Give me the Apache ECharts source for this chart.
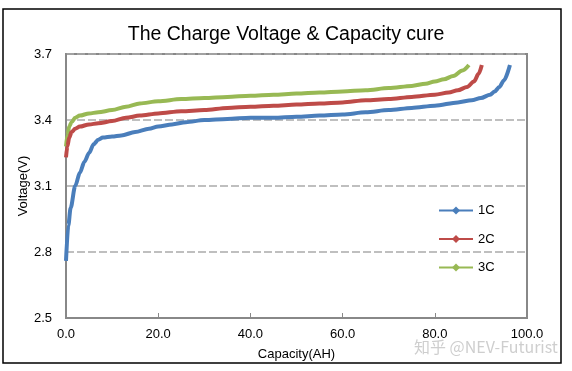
<!DOCTYPE html>
<html>
<head>
<meta charset="utf-8">
<script src="https://cdn.jsdelivr.net/npm/echarts@6/dist/echarts.min.js"></script>
<style>
html,body{margin:0;padding:0;background:#fff;}
#c{width:572px;height:371px;}
</style>
</head>
<body>
<div id="c"></div>
<script>
const titleText = 'The Charge Voltage & Capacity cure';
const seriesNames = ['1C', '2C', '3C'];
const xTicks = [0, 20, 40, 60, 80, 100];
const yTicks = [2.5, 2.8, 3.1, 3.4, 3.7];

const cap1C = [0, 0.5, 1, 2, 3, 4, 5, 6, 7, 8, 10, 12, 15, 18, 20, 23, 26, 30, 35, 40, 45, 50, 55, 60, 65, 70, 75, 80, 85, 88, 90, 92, 93, 94, 95, 96.3];
const volt1C = [2.76, 2.92, 3.00, 3.10, 3.16, 3.21, 3.25, 3.29, 3.31, 3.32, 3.325, 3.33, 3.345, 3.36, 3.37, 3.38, 3.39, 3.40, 3.405, 3.41, 3.41, 3.415, 3.42, 3.425, 3.435, 3.445, 3.455, 3.465, 3.48, 3.49, 3.50, 3.515, 3.53, 3.55, 3.58, 3.65];

const cap2C = [0, 0.3, 0.7, 1.2, 2, 3, 5, 7, 10, 13, 16, 20, 25, 30, 35, 40, 45, 50, 55, 60, 65, 70, 75, 80, 83, 85, 87, 88.5, 89.5, 90.2];
const volt2C = [3.23, 3.28, 3.32, 3.345, 3.36, 3.37, 3.38, 3.385, 3.395, 3.41, 3.42, 3.43, 3.44, 3.445, 3.455, 3.46, 3.465, 3.47, 3.475, 3.48, 3.49, 3.495, 3.505, 3.515, 3.525, 3.535, 3.55, 3.575, 3.61, 3.65];

const cap3C = [0, 0.3, 0.7, 1.2, 2, 3, 5, 7, 10, 13, 16, 20, 25, 30, 35, 40, 45, 50, 55, 60, 65, 70, 75, 78, 80, 82, 84, 86, 87.4];
const volt3C = [3.28, 3.33, 3.37, 3.39, 3.41, 3.42, 3.43, 3.435, 3.445, 3.46, 3.475, 3.485, 3.495, 3.50, 3.505, 3.51, 3.515, 3.52, 3.525, 3.53, 3.535, 3.545, 3.555, 3.565, 3.575, 3.585, 3.60, 3.625, 3.65];

const colors = ['#4A7EBB', '#BE4B48', '#98B954'];
const caps = [cap1C, cap2C, cap3C];
const volts = [volt1C, volt2C, volt3C];
const FONT = "'Liberation Sans', Arial, sans-serif";

const chart = echarts.init(document.getElementById('c'), null, {renderer: 'canvas'});
chart.setOption({
  animation: false,
  backgroundColor: '#fff',
  textStyle: {fontFamily: FONT},
  title: {
    text: titleText,
    left: 'center',
    top: 20,
    textStyle: {fontFamily: FONT, fontSize: 19.5, fontWeight: 'normal', color: '#000'}
  },
  graphic: [
    {type: 'rect', shape: {x: 3, y: 9, width: 558, height: 354}, style: {fill: 'none', stroke: '#000', lineWidth: 1.5}, z: -1, silent: true},
    {type: 'text', left: 414, top: 339, style: {text: '知乎 @NEV-Futurist', fill: 'rgba(185,185,185,0.7)', font: "16px 'Noto Sans CJK SC', 'Liberation Sans', sans-serif"}, z: 100, silent: true}
  ],
  legend: {
    data: seriesNames,
    orient: 'vertical',
    left: 433,
    top: 199,
    itemWidth: 34,
    itemHeight: 10,
    itemGap: 15.5,
    textStyle: {fontFamily: FONT, fontSize: 13, color: '#000'}
  },
  grid: {left: 66, right: 45, top: 54, bottom: 53, show: true, borderColor: '#888', borderWidth: 2, containLabel: false},
  xAxis: {
    type: 'value',
    min: xTicks[0],
    max: xTicks[xTicks.length - 1],
    interval: 20,
    name: 'Capacity(AH)',
    nameLocation: 'middle',
    nameGap: 30,
    nameTextStyle: {fontFamily: FONT, fontSize: 13, color: '#000'},
    axisLine: {lineStyle: {color: '#888', width: 2}},
    axisTick: {inside: true, length: 5, lineStyle: {color: '#888', width: 1}},
    axisLabel: {fontFamily: FONT, fontSize: 13, color: '#000', margin: 10, formatter: v => v.toFixed(1)},
    splitLine: {show: false}
  },
  yAxis: {
    type: 'value',
    min: yTicks[0],
    max: yTicks[yTicks.length - 1],
    interval: 0.3,
    name: 'Voltage(V)',
    nameLocation: 'middle',
    nameGap: 36,
    nameMoveOverlap: false,
    nameTextStyle: {fontFamily: FONT, fontSize: 13, color: '#000'},
    axisLine: {show: true, lineStyle: {color: '#888', width: 2}},
    axisTick: {show: false},
    axisLabel: {fontFamily: FONT, fontSize: 13, color: '#000', margin: 14, formatter: v => v.toFixed(1)},
    splitLine: {show: true, lineStyle: {color: '#aaa', width: 1.5, type: [8, 3]}}
  },
  series: seriesNames.map((n, i) => ({
    name: n,
    type: 'line',
    data: caps[i].map((x, j) => [x, volts[i][j]]),
    smooth: 0.3,
    smoothMonotone: 'x',
    symbol: 'diamond',
    symbolSize: 4,
    showSymbol: false,
    lineStyle: {color: colors[i], width: 4},
    itemStyle: {color: colors[i]},
    z: 3 - i
  }))
});
</script>
</body>
</html>
